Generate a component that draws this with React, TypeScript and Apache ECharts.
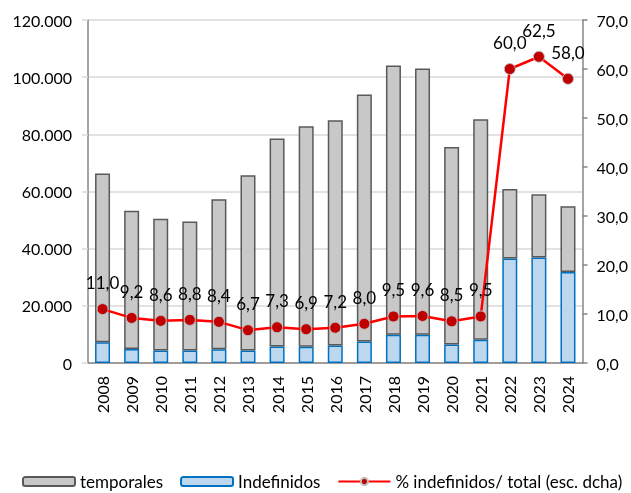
import React, { useEffect, useRef } from "react";
import * as echarts from "echarts";

const years = ["2008","2009","2010","2011","2012","2013","2014","2015","2016","2017","2018","2019","2020","2021","2022","2023","2024"];
const totals = [66300, 53300, 50500, 49500, 57300, 65700, 78500, 82800, 84900, 93900, 104100, 103000, 75600, 85300, 60900, 59000, 54800];
const indefinidos = [7300, 4900, 4350, 4350, 4800, 4400, 5750, 5700, 6100, 7500, 9900, 9900, 6450, 8100, 36550, 36900, 31800];
const pctIndefinidos = [11.0, 9.2, 8.6, 8.8, 8.4, 6.7, 7.3, 6.9, 7.2, 8.0, 9.5, 9.6, 8.5, 9.5, 60.0, 62.5, 58.0];
const temporales = totals.map((t, i) => t - indefinidos[i]);

const FONT = "Lato, 'Noto Sans', sans-serif";

export default function App() {
  const ref = useRef<HTMLDivElement>(null);
  useEffect(() => {
    if (!ref.current) return;
    const chart = echarts.init(ref.current, undefined, { renderer: "svg" });
    chart.setOption({
      animation: false,
      textStyle: { fontFamily: FONT },
      grid: { left: 88, right: 38, top: 20, bottom: 130, containLabel: false },
      legend: {
        left: 17,
        top: 468,
        width: 625,
        itemWidth: 52,
        itemHeight: 9,
        itemGap: 17,
        data: ["temporales", "Indefinidos", "% indefinidos/ total (esc. dcha)"],
        textStyle: { fontFamily: FONT, fontSize: 17, color: "#000" },
      },
      xAxis: {
        type: "category",
        data: years,
        axisLine: { lineStyle: { color: "#868686", width: 1.5 } },
        axisTick: { show: false },
        axisLabel: { rotate: 90, margin: 13, fontSize: 16, color: "#000", fontFamily: FONT },
      },
      yAxis: [
        {
          type: "value",
          min: 0,
          max: 120000,
          interval: 20000,
          axisLine: { show: true, lineStyle: { color: "#868686", width: 1.5 } },
          axisTick: { show: true, length: 6, lineStyle: { color: "#d9d9d9", width: 1.5 } },
          splitLine: { lineStyle: { color: "#d9d9d9", width: 1.5 } },
          axisLabel: {
            margin: 16,
            fontSize: 16,
            color: "#000",
            fontFamily: FONT,
            formatter: (v: number) => (v === 0 ? "0" : (v / 1000).toFixed(0) + ".000"),
          },
        },
        {
          type: "value",
          min: 0,
          max: 70,
          interval: 10,
          position: "right",
          axisLine: { show: true, lineStyle: { color: "#868686", width: 1.5 } },
          axisTick: { show: true, length: 5, lineStyle: { color: "#868686", width: 1.5 } },
          splitLine: { show: false },
          axisLabel: {
            margin: 14,
            fontSize: 16,
            color: "#000",
            fontFamily: FONT,
            formatter: (v: number) => v.toFixed(1).replace(".", ","),
          },
        },
      ],
      series: [
        {
          name: "Indefinidos",
          type: "bar",
          stack: "total",
          barWidth: 15,
          data: indefinidos,
          itemStyle: { color: "#bdd7ee", borderColor: "#0070c0", borderWidth: 1.5 },
        },
        {
          name: "temporales",
          type: "bar",
          stack: "total",
          barWidth: 15,
          data: temporales,
          itemStyle: { color: "#c8c8c8", borderColor: "#595959", borderWidth: 1.5 },
        },
        {
          name: "% indefinidos/ total (esc. dcha)",
          type: "line",
          yAxisIndex: 1,
          data: pctIndefinidos,
          symbol: "circle",
          symbolSize: 11,
          z: 5,
          lineStyle: { color: "#ff0000", width: 2.5 },
          itemStyle: { color: "#c00000", borderColor: "#bfbfbf", borderWidth: 1 },
          label: {
            show: true,
            position: "top",
            distance: 12,
            fontSize: 17,
            color: "#000",
            fontFamily: FONT,
            formatter: (p: any) => Number(p.value).toFixed(1).replace(".", ","),
          },
        },
      ],
    });
    return () => chart.dispose();
  }, []);
  return <div ref={ref} style={{ position: "fixed", left: 0, top: 0, width: 631, height: 493 }} />;
}
